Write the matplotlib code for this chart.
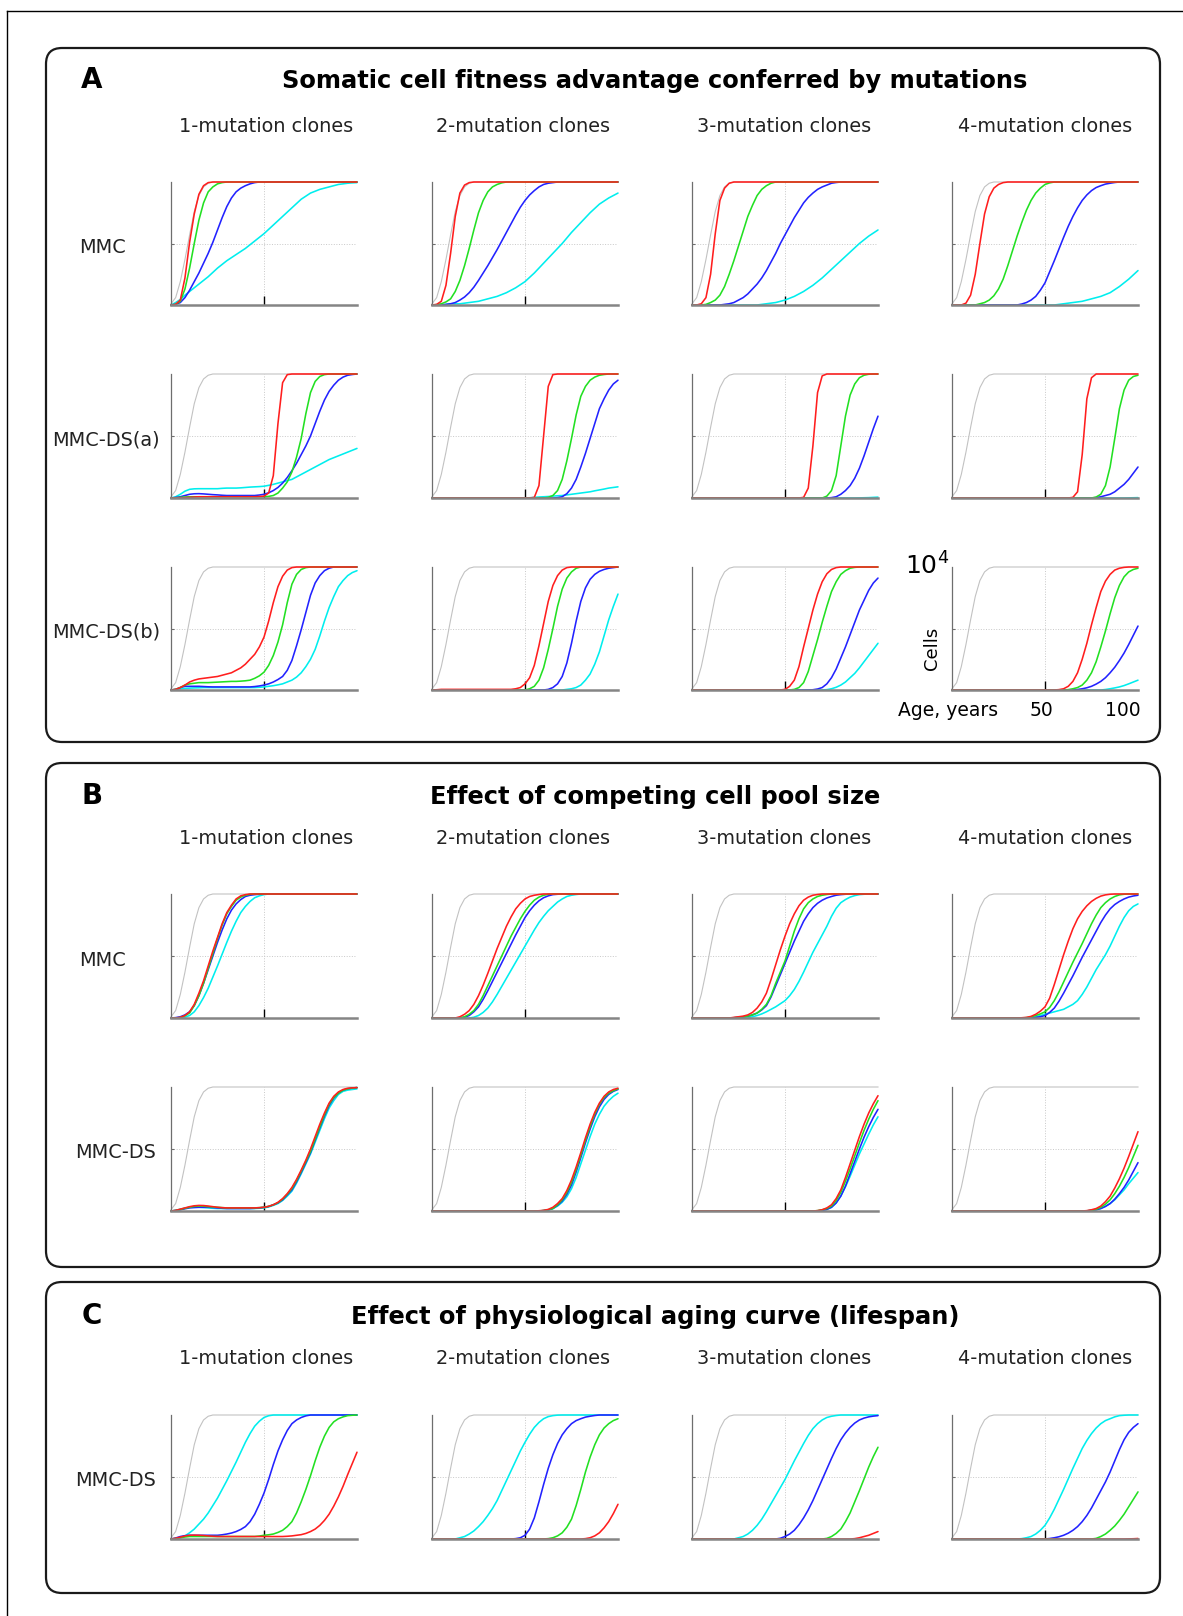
import numpy as np
import matplotlib
matplotlib.use('Agg')
import matplotlib.pyplot as plt
from matplotlib.patches import FancyBboxPatch

W, H = 1183, 1616

# ages read every 2.5 years (0..100), values in % of the 10^4 cell pool
AGES = [i * 2.5 for i in range(41)]
GRAY = [1, 6, 19, 37, 57, 76, 89, 96, 99] + [100] * 32

# ---- A: fitness advantage, MMC
A_MMC_RED = [
    [0, 0.5, 4, 22, 51, 74, 90, 97, 99.5] + [100] * 32,
    [0, 0.5, 3, 16, 42, 72, 91, 97.5, 99.5] + [100] * 32,
    [0, 0, 1, 6, 25, 58, 85, 95, 99] + [100] * 32,
    [0, 0, 0, 1.5, 8, 25, 50, 74, 88, 95, 98, 99.5] + [100] * 29,
]
A_MMC_GREEN = [
    [0, 0.5, 3, 13, 30, 50, 69, 83, 92, 96, 98.5, 99.5] + [100] * 29,
    [0, 0.3, 1, 2.5, 5, 11, 20, 32, 46, 61, 75, 85, 92, 96, 98, 99.3] + [100] * 25,
    [0, 0, 0, 0.5, 2, 4, 8, 15, 25, 36, 48, 60, 72, 81, 89, 94, 97, 99] + [100] * 23,
    [0] * 6 + [1, 2, 4, 7.5, 13, 21, 32, 44, 56, 67, 77, 85, 91, 95, 98, 99.3] + [100] * 19,
]
A_MMC_BLUE = [
    [0, 0.5, 2, 6, 12, 19, 26, 34, 42, 51, 61, 71, 80, 87, 92, 95, 97, 98.5, 99.5] + [100] * 22,
    [0, 0, 0, 0.5, 1, 2, 4, 6.5, 10, 14.5, 20, 26, 32, 38.5, 45, 52, 59, 66, 73, 79.5, 85,
     89.5, 93, 96, 98, 99, 99.5] + [100] * 14,
    [0] * 7 + [0.5, 1, 2, 4, 6, 9, 13, 17, 22, 28, 35, 42, 50, 57, 64, 71, 77, 83, 87.5, 91,
               94, 96, 97.5, 99, 99.6] + [100] * 9,
    [0] * 15 + [0.8, 2, 4, 7, 12, 18, 27, 36, 45.5, 55, 64, 72, 79, 85, 89.5, 93, 95.5, 97,
                98.3, 99, 99.6] + [100] * 5,
]
A_MMC_CYAN = [
    [0, 2, 4.5, 8, 11, 14, 17, 20, 23, 26.5, 30, 33, 36, 38.5, 41, 43.5, 46, 49, 52, 55,
     58, 61.5, 65, 68.5, 72, 75.5, 79, 82.5, 86, 88.5, 91, 92.5, 94, 95, 96, 97, 98, 98.5, 99,
     99.3, 99.5],
    [0, 0, 0, 0.5, 1, 1, 1, 1.5, 2, 2.5, 3, 4, 5, 6, 7, 8.5, 10, 12, 14, 16.5, 19, 22.5, 26,
     30, 34, 38, 42, 46, 50, 54.5, 59, 63, 67, 71, 75, 78.5, 82, 84.5, 87, 89, 91],
    [0] * 15 + [0.5, 1, 1.5, 2, 3, 4, 5.5, 7, 9, 11, 13.5, 16, 19, 22, 25.5, 29, 32.5, 36,
                39.5, 43, 46.5, 50, 53, 56, 58.5, 61],
    [0] * 23 + [0.5, 1, 1.5, 2, 2.5, 3, 4, 5, 6, 7, 8.5, 10, 12.5, 15, 18, 21, 24.5, 28],
]

# ---- A: MMC-DS(a)
A_DSA_RED = [
    [0, 0, 0, 0.3, 0.5, 0.8] + [1] * 13 + [1.2, 1.5, 4, 18, 60, 93, 99.5] + [100] * 15,
    [0] * 22 + [0.5, 10, 50, 90, 99.5] + [100] * 14,
    [0] * 24 + [0.5, 8, 42, 85, 98.5] + [100] * 12,
    [0] * 26 + [0.5, 5, 35, 80, 97] + [100] * 10,
]
A_DSA_GREEN = [
    [0, 0.2, 0.5, 0.8] + [1] * 16 + [1, 1.3, 2, 4, 8, 13, 21, 33, 48, 68, 85, 94, 98, 99.5]
    + [100] * 7,
    [0] * 25 + [0.5, 2, 6, 15, 30, 48, 67, 82, 90, 95, 97.5, 99, 99.6] + [100] * 3,
    [0] * 29 + [1.5, 6, 18, 42, 66, 83, 92, 97, 99, 99.8] + [100] * 2,
    [0] * 31 + [0.8, 3, 10, 25, 48, 72, 87, 95, 98, 99],
]
A_DSA_BLUE = [
    [0, 0.4, 1, 2, 3, 3.4, 3.5, 3.3, 3, 2.7, 2.5, 2.2, 2, 2, 2, 2, 2, 2, 2, 2.4,
     3, 4.2, 6, 8.5, 12, 16.5, 22, 28, 35, 42, 50, 60, 70, 79, 86, 91, 95, 97.5, 99, 99.6, 100],
    [0] * 27 + [0.3, 1, 3.5, 8, 15, 25, 36, 48, 60, 72, 80, 87, 92, 95],
    [0] * 30 + [0.3, 1, 3, 6, 10, 16, 24, 34, 45, 56, 66],
    [0] * 31 + [0.3, 1, 2, 3, 5, 8, 11, 15, 20, 25],
]
A_DSA_CYAN = [
    [0, 1, 3, 5.5, 7, 7.4, 7.5, 7.5, 7.5, 7.5, 7.5, 7.8, 8, 8, 8, 8.2, 8.5, 8.8, 9, 9.2,
     9.5, 10.2, 11, 12, 13, 14, 15, 17, 19, 21, 23, 25, 27, 29, 31, 32.5, 34, 35.5, 37, 38.5, 40],
    [0] * 21 + [0.2, 0.5, 0.8, 1, 1.2, 1.5, 1.8, 2, 2.5, 3, 3.5, 4, 4.5, 5, 5.8, 6.5, 7.2, 8,
                8.5, 9],
    [0] * 36 + [0.1, 0.2, 0.3, 0.5, 0.7],
    [0] * 38 + [0.1, 0.2, 0.3],
]

# ---- A: MMC-DS(b)
A_DSB_RED = [
    [0, 0.5, 2, 4, 6.5, 8, 9, 9.5, 10, 10.5, 11, 12, 13, 14, 16, 18, 21, 25, 29, 35,
     43, 56, 71, 84, 92.5, 97.5, 99.5] + [100] * 14,
    [0, 0.2] + [0.5] * 16 + [1] + [2, 5, 10, 20, 36, 54, 72, 85, 93, 97.5, 99.5] + [100] * 11,
    [0] * 20 + [0.5, 3, 8, 19, 35, 50, 65, 78, 88, 94.5, 98, 99.5] + [100] * 9,
    [0] * 23 + [0.3, 1, 3, 7, 14, 25, 38, 53, 67, 80, 88.5, 94, 97.5, 99, 99.7] + [100] * 3,
]
A_DSB_GREEN = [
    [0, 0.5, 2, 4, 5, 5.5, 6, 6, 6, 6.2, 6.4, 6.6, 6.8, 7, 7, 7.2, 7.5, 8, 9.5, 11.5,
     14.5, 20, 28, 39, 53, 71, 86, 94, 98, 99.5] + [100] * 11,
    [0] * 21 + [1, 3, 8, 18, 33, 50, 68, 82, 91, 96, 99] + [100] * 9,
    [0] * 22 + [0.5, 2, 6, 15, 28, 41, 55, 68, 80, 88, 94, 97, 99, 99.7] + [100] * 5,
    [0] * 25 + [0.3, 1, 2, 4, 8, 14, 23, 35, 48, 62, 75, 85, 92, 96, 98, 99],
]
A_DSB_BLUE = [
    [0, 0.5, 2, 3, 3, 3, 3, 2.8, 2.6, 2.5, 2.5, 2.5, 2.5, 2.5, 2.5, 2.5, 2.5, 2.5, 2.8, 3.3,
     4, 5, 6.5, 8.5, 11, 16, 24, 36, 49, 63, 77, 87, 93, 97, 99] + [100] * 6,
    [0] * 25 + [0.5, 2, 5, 11, 22, 38, 56, 72, 83, 90, 94, 96.5, 98, 99, 99.5, 100],
    [0] * 26 + [0.2, 0.8, 2, 5, 10, 17, 26, 35, 45, 55, 65, 73, 81, 87, 91],
    [0] * 27 + [0.4, 1, 1.8, 3, 4.8, 7, 10, 14, 18.5, 24, 30, 37, 44.5, 52],
]
A_DSB_CYAN = [
    [0, 0.4, 1, 1.3, 1.5, 1.7, 1.8] + [2] * 12 + [2.2, 2.5, 3, 3.5, 4.2, 5]
    + [6.5, 8, 10.5, 14, 19, 25, 33, 44, 56, 67, 76, 84, 89, 93, 95.5, 97],
    [0] * 29 + [0.5, 1, 2, 4, 8, 13, 21, 31, 44, 57, 68, 78],
    [0] * 29 + [0.3, 1, 2.2, 4, 6.5, 10, 13.5, 18, 23, 28, 33, 38],
    [0] * 33 + [0.4, 1, 1.7, 2.5, 3.6, 5, 6.5, 8],
]

# ---- B: competing cell pool size, MMC
B_MMC_RED = [
    [0, 0, 0.5, 2, 5, 11, 20, 30, 42, 54, 65, 76, 85, 91, 96, 98.5, 99.5] + [100] * 24,
    [0] * 6 + [1, 3, 6, 11, 18, 26.5, 36, 46, 56, 65, 74, 81.5, 88, 92.5, 96, 98, 99, 99.6]
    + [100] * 17,
    [0] * 9 + [0.5, 1, 1.5, 2.5, 4.5, 8, 13, 20, 31, 43, 55, 66, 76, 84, 90.5, 95, 97.5, 99,
               99.6] + [100] * 13,
    [0] * 15 + [0.2, 0.5, 1.3, 3, 5.5, 9, 16, 27, 39, 51, 62, 72, 80, 86, 90.5, 94, 96.5,
                98.3, 99.3, 99.8] + [100] * 6,
]
B_MMC_GREEN = [
    [0, 0, 0.4, 1.8, 4, 10, 18, 28, 40, 52, 64, 75, 84, 90, 95, 97.5, 99, 99.7] + [100] * 23,
    [0] * 7 + [1, 3, 6, 11, 18, 26, 34, 42, 50, 58, 66, 73, 80, 86, 91, 95, 97.5, 99, 99.7]
    + [100] * 15,
    [0] * 9 + [0.2, 0.5, 1, 1.5, 2.5, 4, 7, 11, 18, 28, 37, 46, 58, 70, 80, 88, 93, 96, 98,
               99, 99.6] + [100] * 11,
    [0] * 16 + [0.3, 0.8, 2, 3.3, 5, 8.5, 14, 21, 29, 37, 45, 52.5, 60, 68, 76, 83, 89, 93,
                96, 98, 99.3, 99.8] + [100] * 3,
]
B_MMC_BLUE = [
    [0, 0.3, 1, 2.5, 5, 10, 18, 28, 39, 50, 61, 71, 80, 87, 92, 95.5, 98, 99, 99.5, 99.8]
    + [100] * 21,
    [0] * 7 + [0.7, 2, 5, 9, 15, 22, 29.5, 37, 44.5, 52, 59.5, 67, 74, 81, 86.5, 91, 94.5, 97,
               98.5, 99.5, 99.8] + [100] * 13,
    [0] * 9 + [0.2, 0.5, 1, 1.5, 2.5, 4, 6.5, 10, 17, 26, 35, 44, 53, 62, 70, 78, 84, 89,
               92.5, 95, 96.8, 98, 99, 99.5, 99.8] + [100] * 7,
    [0] * 18 + [0.5, 1, 2, 4.5, 8, 13.5, 20, 27, 34, 41.5, 49, 56, 63, 70, 77, 83, 88, 91.5,
                94, 96, 97.5, 98.4, 99],
]
B_MMC_CYAN = [
    [0, 0, 0, 0.7, 2, 5, 10, 16.5, 24, 33, 42, 51.5, 61, 70, 78, 85, 90, 94, 97, 98.5, 99.5]
    + [100] * 20,
    [0] * 9 + [0.6, 2, 4.5, 8, 13, 19, 25.5, 32, 38.5, 45, 51.5, 58, 64.5, 71, 77, 82, 86.5,
               90, 93.5, 96, 98, 99, 99.6] + [100] * 9,
    [0] * 11 + [0.2, 0.5, 1, 2, 3.3, 5, 7, 9, 11.5, 14, 18, 23, 29.5, 37, 45, 53, 60, 67, 74,
                82, 88.5, 93, 95.5, 97.5, 98.7, 99.5, 99.8] + [100] * 3,
    [0] * 17 + [0.5, 1, 2, 3, 4, 5, 6, 7, 9, 11, 14, 19, 25, 32, 39, 45, 51, 58, 66, 74, 81,
                86.5, 90, 92],
]

# ---- B: MMC-DS
B_DS_RED = [
    [0, 0.5, 1.5, 2.5, 3.5, 4.2, 4.5, 4.4, 4, 3.5, 3, 2.7, 2.5, 2.5, 2.5, 2.5, 2.5, 2.5, 2.5,
     2.7, 3, 3.8, 5, 7, 10, 14, 19, 25.5, 33, 41, 50, 60, 70, 79, 87, 92.5, 96, 98, 99, 99.3,
     99.5],
    [0] * 23 + [0.2, 0.5, 1.3, 3, 6, 10, 16.5, 25, 35.5, 47, 59, 70, 79.5, 87, 92.5, 96, 98, 99],
    [0] * 27 + [0.3, 1, 2.5, 5, 10, 17, 27, 38, 49, 60, 70, 79, 86.5, 93],
    [0] * 29 + [0.3, 1, 2, 4, 7.5, 12, 18.5, 26, 34.5, 44, 54, 64],
]
B_DS_GREEN = [
    [0, 0.4, 1.2, 2.2, 3, 3.7, 4, 3.9, 3.5, 3.2, 3, 2.7, 2.5, 2.5, 2.5, 2.5, 2.5, 2.5, 2.5,
     2.7, 3, 3.7, 5, 6.7, 9.5, 13.5, 18, 24.5, 32, 40, 48, 58, 68, 77.5, 86, 91.5, 95, 97.5,
     98.5, 99.2, 99.5],
    [0] * 24 + [0.4, 1, 2, 5, 9, 15, 23, 33.5, 45, 57, 68, 78, 86, 91.5, 95, 97, 98.5],
    [0] * 27 + [0.3, 1, 2, 4, 8.5, 15, 24, 34, 44.5, 55, 65, 74, 82, 89],
    [0] * 29 + [0.1, 0.5, 1.3, 3, 5.5, 9, 14, 20, 27, 35, 44, 53],
]
B_DS_BLUE = [
    [0, 0.4, 1, 1.8, 2.5, 2.8, 3, 3, 3, 2.8, 2.5, 2.2, 2, 2, 2, 2, 2, 2, 2.2, 2.5,
     3, 3.6, 5, 6.5, 9, 13, 17, 23.5, 31, 39, 47, 57, 67, 76.5, 85, 91, 95, 97.5, 98.5, 99.2,
     99.5],
    [0] * 24 + [0.3, 0.8, 2, 4.5, 8, 13.5, 21, 31.5, 43, 55, 66, 76, 84, 90, 94, 96.5, 98],
    [0] * 27 + [0.1, 0.5, 1.3, 3, 6.5, 12, 20, 30, 40, 50, 59.5, 68, 75.5, 82],
    [0] * 29 + [0.1, 0.5, 1, 2, 3.7, 6, 9.5, 14, 19, 25, 32, 39],
]
B_DS_CYAN = [
    [0, 0.5, 1.5, 2.3, 3, 3, 3, 2.8, 2.5, 2.2, 2, 2, 2, 2, 2, 2, 2, 2, 2, 2.2,
     2.5, 3.3, 4.5, 6, 8.5, 12, 16, 22.5, 30, 38, 46, 55.5, 65, 74.5, 83, 89, 94, 96.5, 97.5,
     98, 98.5],
    [0] * 24 + [0.3, 0.8, 2, 4, 7, 11.5, 18, 27, 38, 49, 60, 70, 78, 84.5, 89, 92.5, 95],
    [0] * 27 + [0.1, 0.5, 1.3, 3, 6.5, 12, 19.5, 28, 37, 46, 54, 62, 69.5, 76],
    [0] * 29 + [0.1, 0.5, 1, 2, 3.7, 6, 9, 13, 17, 22, 26.5, 31],
]

# ---- C: physiological aging curve, MMC-DS
C_DS_RED = [
    [0, 0.6, 1.5, 2.4, 3, 3.1, 3, 2.8, 2.5, 2.2, 2] + [2] * 14
    + [2.2, 2.5, 3, 3.5, 4.5, 6, 8, 11, 15, 20, 26.5, 34, 42.5, 52, 61, 70],
    [0] * 33 + [0.3, 1, 2.5, 5, 9, 14, 20.5, 28],
    [0] * 35 + [0.3, 1, 2, 3, 4.5, 6],
    [0] * 38 + [0.1, 0.2, 0.4],
]
C_DS_GREEN = [
    [0, 0.4, 1, 1.6, 2] + [2] * 14 + [2.4, 3, 3.4, 4, 5.3, 7, 10, 14, 21, 30, 40, 51, 63, 74,
                                      83, 90, 94.5, 97, 98.5, 99.5, 99.8, 100],
    [0] * 25 + [0.3, 1, 2.5, 5, 9.5, 16, 27, 40, 54, 66, 76, 84, 89.5, 93, 95.5, 97],
    [0] * 29 + [0.5, 2, 4.5, 8, 14, 21, 30, 39, 48.5, 58, 66.5, 74],
    [0] * 31 + [0.5, 2, 4, 7, 10.5, 15, 20, 26, 32, 38],
]
C_DS_BLUE = [
    [0, 0.8, 2, 2.7, 3] + [3] * 6 + [3.4, 4, 4.8, 6, 7.7, 10, 14, 20, 28, 37, 48, 60, 71, 80,
                                     87.5, 93, 96, 98, 99.3] + [100] * 11,
    [0] * 18 + [0.3, 1, 3, 8, 17, 30, 44, 57, 68, 77, 84, 89, 93, 95.5, 97, 98.3, 99, 99.6]
    + [100] * 5,
    [0] * 19 + [0.6, 2, 4, 7, 11.5, 17, 23.5, 31, 39.5, 48, 56.5, 65, 73, 80, 85.5, 90, 93.5,
                96, 97.5, 98.5, 99.1, 99.5],
    [0] * 21 + [0.4, 1, 1.8, 3, 4.7, 7, 10, 14, 19, 25, 32, 39, 46, 54, 63, 72, 80, 86, 90, 93],
]
C_DS_CYAN = [
    [0, 0.3, 1, 2.5, 5, 8, 12, 16, 21, 27, 33, 40, 47, 54.5, 62, 70, 78, 85, 91, 95, 98, 99.4]
    + [100] * 19,
    [0] * 6 + [1, 2, 4, 6.5, 10, 14, 19, 24.5, 31, 39, 47, 55, 63, 71, 78, 84.5, 90, 94, 97,
               98.7, 99.5, 99.9] + [100] * 13,
    [0] * 10 + [1, 2, 4, 7, 11, 16, 22, 28.5, 35, 41.5, 48, 55.5, 63, 70, 77, 83.5, 89, 93,
                96, 98, 99, 99.6] + [100] * 9,
    [0] * 15 + [0.3, 1, 2, 4, 7, 11, 17, 24, 32, 40, 48.5, 57, 65, 73, 79.5, 85, 89.5, 93,
                95.5, 97, 98.5, 99.5, 99.8] + [100] * 3,
]

COL_TITLES = ['1-mutation clones', '2-mutation clones', '3-mutation clones', '4-mutation clones']
COL_TITLE_X = [266, 523, 784, 1045]

COLORS = {'cyan': '#00eeee', 'blue': '#2222ff', 'green': '#22e022', 'red': '#ff1e1e'}

# layout in pixels of the full image
COL_LEFT = [171, 432, 692, 952]
AX_W = 186
rows = [
    # (top, bottom, label, label_x, red, green, blue, cyan)
    (182, 305, 'MMC', 103, A_MMC_RED, A_MMC_GREEN, A_MMC_BLUE, A_MMC_CYAN),
    (374, 498, 'MMC-DS(a)', 106, A_DSA_RED, A_DSA_GREEN, A_DSA_BLUE, A_DSA_CYAN),
    (567, 690, 'MMC-DS(b)', 106, A_DSB_RED, A_DSB_GREEN, A_DSB_BLUE, A_DSB_CYAN),
    (894, 1018, 'MMC', 103, B_MMC_RED, B_MMC_GREEN, B_MMC_BLUE, B_MMC_CYAN),
    (1087, 1211, 'MMC-DS', 116, B_DS_RED, B_DS_GREEN, B_DS_BLUE, B_DS_CYAN),
    (1415, 1539, 'MMC-DS', 116, C_DS_RED, C_DS_GREEN, C_DS_BLUE, C_DS_CYAN),
]

boxes = [
    # (top, bottom, letter, title, letter_y, title_y, header_y)
    (48, 742, 'A', 'Somatic cell fitness advantage conferred by mutations', 80, 81, 126),
    (763, 1267, 'B', 'Effect of competing cell pool size', 796, 797, 839),
    (1282, 1593, 'C', 'Effect of physiological aging curve (lifespan)', 1316, 1317, 1359),
]

fig = plt.figure(figsize=(W / 100, H / 100), dpi=100)

# background axes in pixel units for frames and texts
bg = fig.add_axes([0, 0, 1, 1])
bg.set_xlim(0, W)
bg.set_ylim(H, 0)
bg.axis('off')

bg.plot([7, W], [11, 11], color='black', lw=1.0)
bg.plot([7, 7], [11, H], color='black', lw=1.0)

for top, bot, letter, title, ly, ty, hy in boxes:
    bg.add_patch(FancyBboxPatch((46, top), 1160 - 46, bot - top,
                                boxstyle='round,pad=0,rounding_size=16',
                                fc='none', ec='#1a1a1a', lw=1.6))
    bg.text(92, ly, letter, fontsize=20, fontweight='bold', ha='center', va='center')
    bg.text(655, ty, title, fontsize=17.4, fontweight='bold', ha='center', va='center')
    for c, t in enumerate(COL_TITLES):
        bg.text(COL_TITLE_X[c], hy, t, fontsize=13.9, ha='center', va='center',
                color='#222222')


def style_axes(ax):
    ax.set_xlim(0, 100)
    ax.set_ylim(0, 1e4)
    ax.patch.set_alpha(0)
    ax.spines['top'].set_visible(False)
    ax.spines['right'].set_visible(False)
    ax.spines['left'].set_color('#6e6e6e')
    ax.spines['left'].set_linewidth(0.9)
    ax.spines['bottom'].set_color('#858585')
    ax.spines['bottom'].set_linewidth(1.8)
    ax.set_xticks([50])
    ax.set_yticks([5000])
    ax.tick_params(axis='x', direction='in', length=6.5, width=1.0, color='black',
                   labelbottom=False)
    ax.tick_params(axis='y', direction='in', length=2, width=0.8, color='#6e6e6e',
                   labelleft=False)
    ax.grid(True, linestyle=':', color='#c8c8c8', linewidth=0.7)
    ax.set_axisbelow(True)


for top, bot, label, lx, reds, greens, blues, cyans in rows:
    bg.text(lx, (top + bot) / 2 + 4, label, fontsize=13.9, ha='center', va='center',
            color='#222222')
    for c in range(4):
        ax = fig.add_axes([COL_LEFT[c] / W, 1 - bot / H, AX_W / W, (bot - top) / H])
        style_axes(ax)
        ax.plot(AGES, np.array(GRAY) * 100, color='#c2c2c2', lw=0.8, clip_on=False)
        for name, series in (('cyan', cyans), ('blue', blues), ('green', greens), ('red', reds)):
            ax.plot(AGES, np.array(series[c]) * 100, color=COLORS[name], lw=1.15,
                    clip_on=False, solid_capstyle='round', solid_joinstyle='round')

# axis annotations on the last panel of row A / MMC-DS(b)
bg.text(949, 575, r'$10^4$', fontsize=18, ha='right', va='baseline')
bg.text(932, 648, 'Cells', fontsize=13, rotation=90, ha='center', va='center')
bg.text(948, 710, 'Age, years', fontsize=13.5, ha='center', va='center')
bg.text(1041, 710, '50', fontsize=13.5, ha='center', va='center')
bg.text(1123, 710, '100', fontsize=13.5, ha='center', va='center')

fig.savefig('out.png', dpi=100)
